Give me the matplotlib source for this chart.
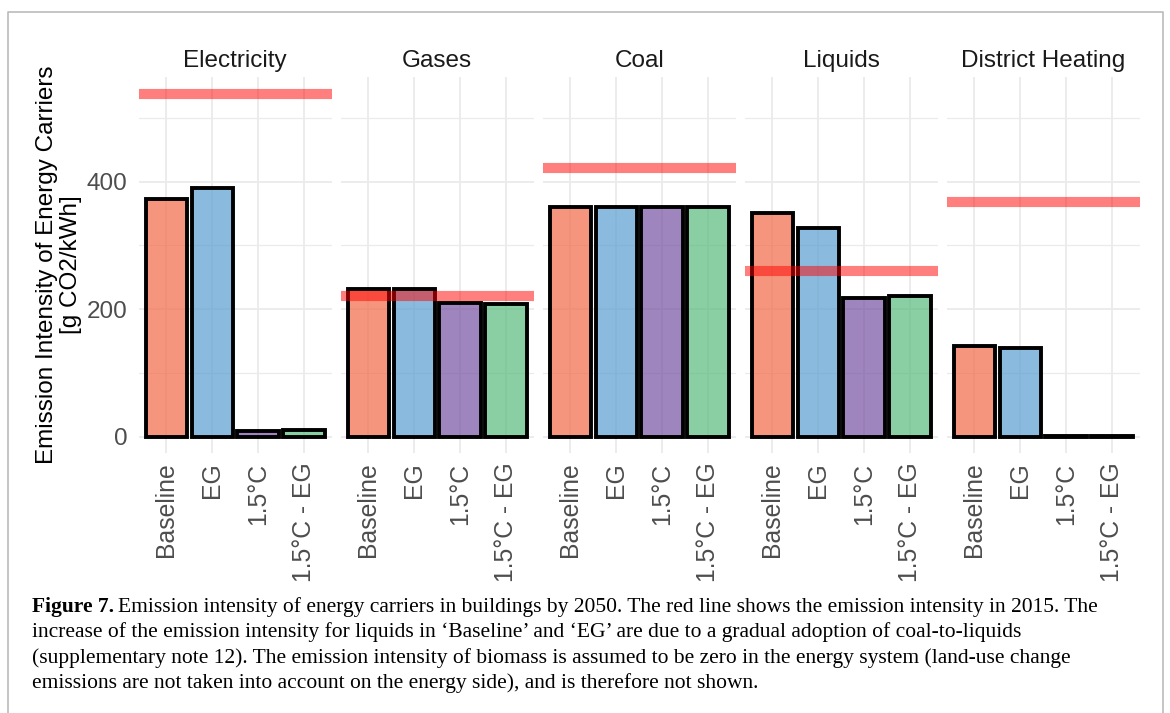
import matplotlib
matplotlib.use("Agg")
import matplotlib.pyplot as plt
from matplotlib.lines import Line2D

carriers = ["Electricity", "Gases", "Coal", "Liquids", "District Heating"]
scenarios = ["Baseline", "EG", "1.5°C", "1.5°C - EG"]
baseline = [373, 232, 361, 351, 142]
eg = [390, 232, 361, 328, 139]
c15 = [9, 210, 361, 218, 0.5]
c15_eg = [10, 208, 361, 220, 0.5]
ref_2015 = [537, 221, 421, 260, 368]

W, H = 1170, 713
fig = plt.figure(figsize=(W / 100, H / 100), dpi=100)

def fx(px):
    return px / W

def fy(py):
    return 1 - py / H

sans = "Liberation Sans"
fill_colors = [(241/255, 105/255, 72/255, 0.7),
               (89/255, 159/255, 208/255, 0.7),
               (119/255, 81/255, 161/255, 0.7),
               (88/255, 186/255, 126/255, 0.7)]

panel_left0, panel_w, panel_gap = 138.7, 193.0, 9.0
panel_top, panel_bot = 77.0, 453.0
series = [baseline, eg, c15, c15_eg]

for i, name in enumerate(carriers):
    left = panel_left0 + i * (panel_w + panel_gap)
    ax = fig.add_axes([fx(left), fy(panel_bot), fx(panel_w), (panel_bot - panel_top) / H])
    ax.set_xlim(-0.6, 3.6)
    ax.set_ylim(-25.6, 564.2)
    for s in ax.spines.values():
        s.set_visible(False)
    ax.set_yticks([0, 200, 400])
    ax.set_yticks([100, 300, 500], minor=True)
    ax.set_xticks(range(4))
    ax.grid(True, which="major", color="#EBEBEB", linewidth=1.3)
    ax.grid(True, which="minor", axis="y", color="#EBEBEB", linewidth=0.9)
    ax.set_axisbelow(True)
    ax.tick_params(axis="both", which="both", length=0)
    if i == 0:
        ax.set_yticklabels(["0", "200", "400"], fontsize=17.5, color="#4D4D4D", family=sans)
        ax.tick_params(axis="y", pad=8)
    else:
        ax.set_yticklabels([])
    ax.set_xticklabels(scenarios, rotation=90, fontsize=17.8, color="#4D4D4D",
                       family=sans, va="top", ha="center")
    ax.tick_params(axis="x", pad=7)
    vals = [s[i] for s in series]
    ax.bar(range(4), vals, width=0.9, color=fill_colors, edgecolor="black",
           linewidth=2.8, zorder=2)
    ax.axhline(ref_2015[i], color=(1, 0, 0, 0.5), linewidth=7.3, zorder=3,
               solid_capstyle="butt")
    ax.set_title(name, fontsize=17.5, color="#1A1A1A", family=sans, pad=7)

fig.text(fx(59), fy(265), "Emission Intensity of Energy Carriers\n[g CO2/kWh]",
         rotation=90, ha="center", va="center", multialignment="center",
         fontsize=17.5, family=sans, color="black", linespacing=1.15)

# frame
fig.add_artist(Line2D([fx(8), fx(8), fx(1163), fx(1163)],
                      [0, fy(12), fy(12), 0], transform=fig.transFigure,
                      color="#BBBBBB", linewidth=1.2))

serif = "Liberation Serif"
cap_lines = [
    "Emission intensity of energy carriers in buildings by 2050. The red line shows the emission intensity in 2015. The",
    "increase of the emission intensity for liquids in \u2018Baseline\u2019 and \u2018EG\u2019 are due to a gradual adoption of coal-to-liquids",
    "(supplementary note 12). The emission intensity of biomass is assumed to be zero in the energy system (land-use change",
    "emissions are not taken into account on the energy side), and is therefore not shown.",
]
cap_size = 15.5
ys = [607, 632, 658, 683]
t = fig.text(fx(32), fy(ys[0]), "Figure 7.", fontsize=cap_size, family=serif,
             fontweight="bold", va="center", ha="left")
fig.canvas.draw()
bb = t.get_window_extent()
fig.text(bb.x1 / W + fx(4), fy(ys[0]), cap_lines[0], fontsize=cap_size, family=serif,
         va="center", ha="left")
for y, line in zip(ys[1:], cap_lines[1:]):
    fig.text(fx(32), fy(y), line, fontsize=cap_size, family=serif, va="center", ha="left")

fig.savefig("out.png", dpi=100)
